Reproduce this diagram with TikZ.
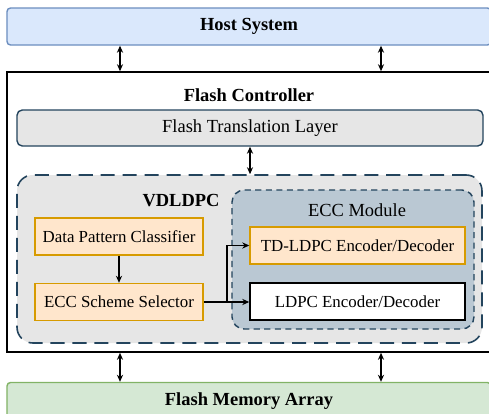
\documentclass[tikz,border=0pt]{standalone}
\usepackage{fontspec}
\setmainfont{Liberation Serif}
\usetikzlibrary{arrows.meta,positioning,calc}

\definecolor{hostfill}{HTML}{DAE8FC}
\definecolor{hostdraw}{HTML}{6C8EBF}
\definecolor{memfill}{HTML}{D5E8D4}
\definecolor{memdraw}{HTML}{82B366}
\definecolor{grayfill}{HTML}{E6E6E6}
\definecolor{navy}{HTML}{23445D}
\definecolor{eccfill}{HTML}{BAC8D3}
\definecolor{orangefill}{HTML}{FFE6CC}
\definecolor{orangedraw}{HTML}{D79B00}

\begin{document}
\begin{tikzpicture}[
    outer/.style={rectangle, rounded corners=2pt, line width=0.8pt, minimum width=9.68cm, minimum height=0.74cm, font=\fontsize{10.5}{12}\selectfont\bfseries},
    ftlbox/.style={rectangle, rounded corners=3pt, draw=navy, fill=grayfill, line width=0.8pt, minimum width=9.32cm, minimum height=0.72cm, font=\fontsize{10.5}{12}\selectfont},
    unit/.style={rectangle, line width=0.8pt, minimum height=0.74cm, font=\fontsize{9.6}{11}\selectfont},
    orangebox/.style={unit, draw=orangedraw, fill=orangefill},
    >={Stealth[length=4pt,width=3.5pt]}
]
\useasboundingbox (0,0) rectangle (9.78,-8.28);

% outer blocks
\node[outer, draw=hostdraw, fill=hostfill] (host) at (4.98,-0.53) {Host System};
\node[rectangle, draw=black, line width=0.9pt, minimum width=9.68cm, minimum height=5.6cm] (ctrl) at (4.98,-4.24) {};
\node[font=\fontsize{10.5}{12}\selectfont\bfseries] (ctrltitle) at (4.98,-1.9) {Flash Controller};
\node[outer, draw=memdraw, fill=memfill] (mem) at (4.98,-8.02) {Flash Memory Array};

\node[ftlbox] (ftl) at (5.0,-2.56) {Flash Translation Layer};

% VDLDPC and ECC module
\node[rectangle, rounded corners=9pt, draw=navy, fill=grayfill, line width=0.9pt, dash pattern=on 8pt off 4.5pt, minimum width=9.3cm, minimum height=3.36cm] (vdl) at (4.99,-5.18) {};
\node[font=\fontsize{10.5}{12}\selectfont\bfseries] (vdltitle) at (3.62,-4.02) {VDLDPC};
\node[rectangle, rounded corners=7pt, draw=navy, fill=eccfill, line width=0.8pt, dash pattern=on 3.5pt off 2.5pt, minimum width=4.84cm, minimum height=2.78cm] (ecc) at (7.06,-5.19) {};
\node[font=\fontsize{10.5}{12}\selectfont] (ecctitle) at (7.14,-4.2) {ECC Module};

\node[orangebox, minimum width=4.3cm] (td) at (7.15,-4.91) {TD-LDPC Encoder/Decoder};
\node[unit, draw=black, fill=white, minimum width=4.3cm] (ldpc) at (7.15,-6.03) {LDPC Encoder/Decoder};
\node[orangebox, minimum width=3.36cm] (dpc) at (2.38,-4.73) {Data Pattern Classifier};
\node[orangebox, minimum width=3.36cm] (sel) at (2.38,-6.04) {ECC Scheme Selector};

% connectors
\coordinate (lcol) at (2.4,0);
\coordinate (rcol) at (7.62,0);
\coordinate (split) at (4.54,0);
\draw[<->, line width=0.7pt] (host.south -| lcol) -- (ctrl.north -| lcol);
\draw[<->, line width=0.7pt] (host.south -| rcol) -- (ctrl.north -| rcol);
\draw[<->, line width=0.7pt] (ctrl.south -| lcol) -- (mem.north -| lcol);
\draw[<->, line width=0.7pt] (ctrl.south -| rcol) -- (mem.north -| rcol);
\draw[<->, line width=0.7pt] (ftl.south) -- (ftl.south |- vdl.north);
\draw[->, line width=0.7pt] (dpc) -- (sel);
\draw[->, line width=0.7pt] (sel.east) -- (sel.east -| ldpc.west);
\draw[->, line width=0.7pt] (sel.east -| split) |- (td.west);
\end{tikzpicture}
\end{document}
